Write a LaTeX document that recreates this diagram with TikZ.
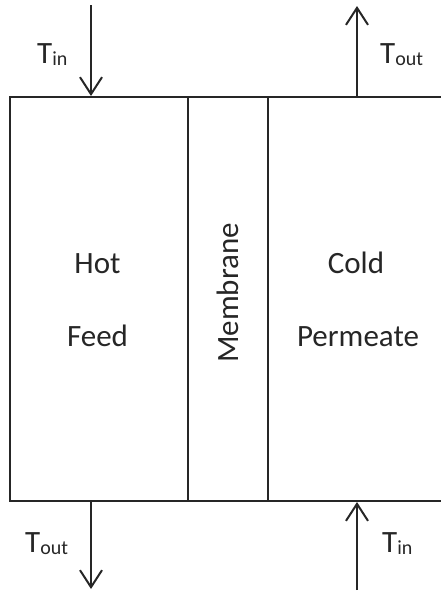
\documentclass[tikz,border=0pt]{standalone}
\usepackage{fontspec}
\setmainfont{Carlito}
\usetikzlibrary{arrows.meta}
\begin{document}
\begin{tikzpicture}[x=1pt,y=-1pt,
  part/.style={draw=black!85,line width=2pt,minimum height=404pt,inner sep=0pt,anchor=north west},
  arr/.style={draw=black!85,line width=2pt,-{Straight Barb[length=17pt,width=22pt,line width=2pt]}},
  lbl/.style={anchor=base,inner sep=0pt,font=\fontsize{31}{37}\selectfont,text=black!85},
  sub/.style={}]
\newcommand{\subtx}[1]{\raisebox{-2pt}{\fontsize{20}{20}\selectfont #1}}
\useasboundingbox (0,0) rectangle (441,592);
\begin{scope}
\clip (0,0) rectangle (441,592);
\node[part,minimum width=178pt] (feed) at (9,96) {};
\node[part,minimum width=80pt] (memb) at (187,96) {};
\node[part,minimum width=178pt] (perm) at (267,96) {};
\end{scope}
% labels inside
\node[lbl] (hot) at (97.5,273) {Hot};
\node[lbl] (fd) at (97.5,346) {Feed};
\node[lbl] (cold) at (356,273) {Cold};
\node[lbl] (pm) at (358,346) {Permeate};
\node[lbl,rotate=90,anchor=center] (mt) at (228,293) {Membrane};
% arrows
\coordinate (tl) at (91,5);
\coordinate (tr) at (357,6);
\coordinate (bl) at (91,589);
\coordinate (br) at (357,590);
\draw[arr] (tl) -- (tl |- feed.north);
\draw[arr] (tr |- perm.north) -- (tr);
\draw[arr] (bl |- feed.south) -- (bl);
\draw[arr] (br) -- (br |- perm.south);
% T labels
\node[lbl,anchor=base west] (tin1) at (37,63) {T\subtx{in}};
\node[lbl,anchor=base west] (tout1) at (380,63) {T\subtx{out}};
\node[lbl,anchor=base west] (tout2) at (25,552) {T\subtx{out}};
\node[lbl,anchor=base west] (tin2) at (382,552) {T\subtx{in}};
\end{tikzpicture}
\end{document}
